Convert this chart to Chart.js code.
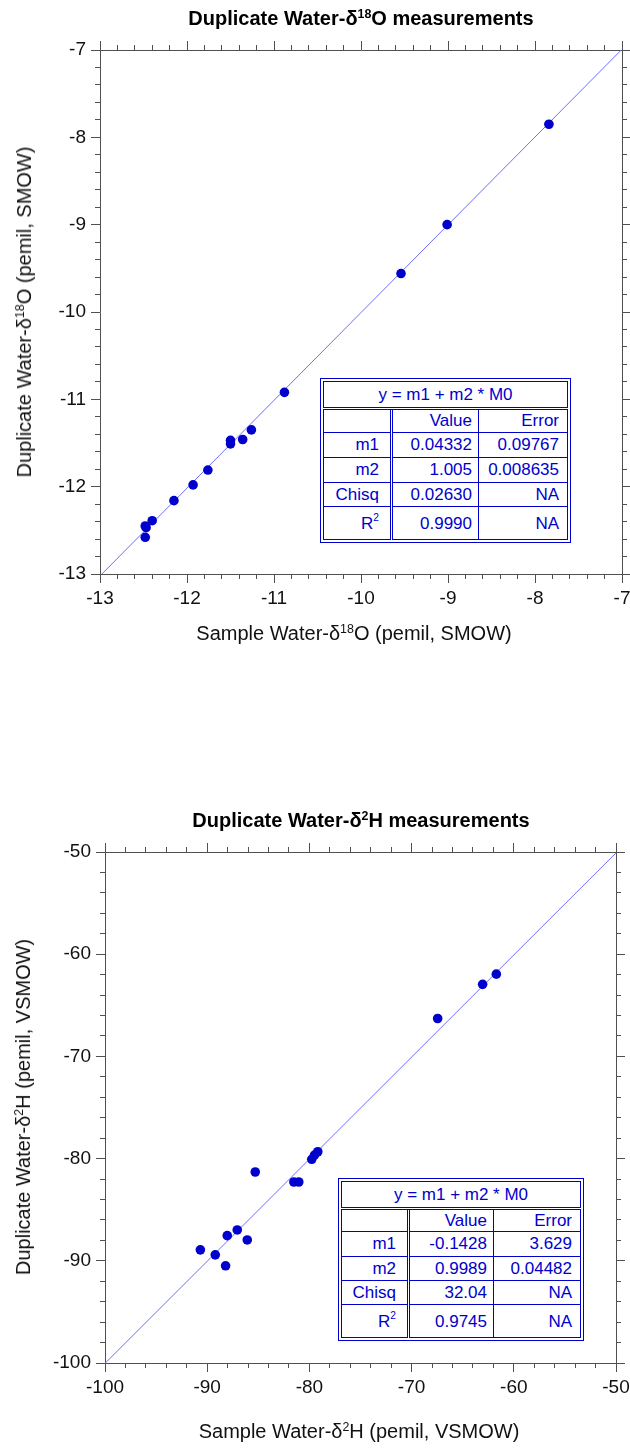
<!DOCTYPE html>
<html>
<head>
<meta charset="utf-8">
<script src="https://cdn.jsdelivr.net/npm/chart.js@4.4.0/dist/chart.umd.min.js"></script>
<style>
  body { margin: 0; background: #fff; overflow: hidden; }
  #page { position: relative; width: 630px; height: 1448px; font-family: "Liberation Sans", Arial, sans-serif; }
  canvas { position: absolute; left: 0; }
  .title, .axis-title { position: absolute; white-space: nowrap; line-height: 1; color: #000; transform: translate(-50%, -50%); }
  .title { font-weight: bold; font-size: 20px; }
  .axis-title { font-size: 20px; color: #111; }
  .vertical { transform: translate(-50%, -50%) rotate(-90deg); }
  .sup { font-size: 0.62em; position: relative; top: -0.55em; }
  .fit { position: absolute; border: 1px solid #0000cc; padding: 2px; background: #fff; }
  .fit table { border-collapse: collapse; table-layout: fixed; font-size: 17px; color: #0000cc; }
  .fit td { border: 1px solid #0000cc; text-align: right; line-height: 1; white-space: nowrap; padding-top: 0; padding-bottom: 0; }
  .fit tr.head td { text-align: center; padding: 0; border-bottom: 3px double #0000cc; }
  .fit td.c0 { border-right: 3px double #0000cc; padding-right: 11px; }
  .fit td.c1 { padding-right: 6px; }
  .fit td.c2 { padding-right: 8px; }
  .fit .sup { font-size: 0.6em; top: -0.7em; }
</style>
</head>
<body>
<div id="page">
  <canvas id="chartO" width="630" height="640" style="top:0px;width:630px;height:640px"></canvas>
  <div class="title" style="left:361px;top:18px">Duplicate Water-δ<span class="sup">18</span>O measurements</div>
  <div class="axis-title" style="left:354px;top:633px">Sample Water-δ<span class="sup">18</span>O (pemil, SMOW)</div>
  <div class="axis-title vertical" style="left:24px;top:312px">Duplicate Water-δ<span class="sup">18</span>O (pemil, SMOW)</div>
  <div class="fit" id="fitO" style="left:320px;top:378px"></div>

  <canvas id="chartH" width="630" height="640" style="top:800px;width:630px;height:640px"></canvas>
  <div class="title" style="left:361px;top:820px">Duplicate Water-δ<span class="sup">2</span>H measurements</div>
  <div class="axis-title" style="left:359px;top:1431px">Sample Water-δ<span class="sup">2</span>H (pemil, VSMOW)</div>
  <div class="axis-title vertical" style="left:23px;top:1107px">Duplicate Water-δ<span class="sup">2</span>H (pemil, VSMOW)</div>
  <div class="fit" id="fitH" style="left:338px;top:1178px"></div>
</div>

<script>
// oxygen-18 duplicates
const sampleO = [-7.84, -9.01, -9.54, -10.88, -11.26, -11.36, -11.50, -11.50, -11.76, -11.93, -12.15, -12.40, -12.47, -12.48, -12.48];
const duplicateO = [-7.85, -9.00, -9.56, -10.92, -11.35, -11.46, -11.47, -11.51, -11.81, -11.98, -12.16, -12.39, -12.47, -12.45, -12.58];
const fitO = [0.04332, 1.005]; // m1, m2
const rangeO = [-13, -7];
const fitRowsO = [
    ['', 'Value', 'Error'],
    ['m1', '0.04332', '0.09767'],
    ['m2', '1.005', '0.008635'],
    ['Chisq', '0.02630', 'NA'],
    ['R<span class="sup">2</span>', '0.9990', 'NA']
];

// deuterium duplicates
const sampleH = [-61.71, -63.05, -67.45, -79.18, -79.50, -79.77, -85.30, -81.52, -81.04, -87.06, -88.04, -86.08, -90.67, -89.21, -88.20];
const duplicateH = [-61.95, -62.95, -66.29, -79.33, -79.65, -80.07, -81.31, -82.29, -82.29, -86.98, -87.54, -87.96, -88.93, -89.42, -90.49];
const fitH = [-0.1428, 0.9989];
const rangeH = [-100, -50];
const fitRowsH = [
    ['', 'Value', 'Error'],
    ['m1', '-0.1428', '3.629'],
    ['m2', '0.9989', '0.04482'],
    ['Chisq', '32.04', 'NA'],
    ['R<span class="sup">2</span>', '0.9745', 'NA']
];

const fitHeader = 'y = m1 + m2 * M0';
const FONT = '"Liberation Sans", Arial, sans-serif';
const AXIS_COLOR = '#505050';

function buildScales(range, majorStep, minorStep, leftWidth, bottomHeight) {
    const [min, max] = range;
    const flatH = s => { s.height = 0; s.paddingLeft = 0; s.paddingRight = 0; };
    const flatW = s => { s.width = 0; s.paddingTop = 0; s.paddingBottom = 0; };
    const make = (position, step, tickLength, labels, border, weight, afterFit) => ({
        type: 'linear',
        position: position,
        min: min,
        max: max,
        weight: weight,
        afterFit: afterFit,
        ticks: {
            display: labels,
            stepSize: step,
            maxTicksLimit: 500,
            autoSkip: false,
            maxRotation: 0,
            padding: position === 'left' ? 5 : 4,
            color: '#111',
            font: { family: FONT, size: 19 },
            callback: v => String(Math.round(v * 1000) / 1000)
        },
        grid: {
            display: true,
            drawOnChartArea: false,
            drawTicks: true,
            tickLength: tickLength,
            tickColor: AXIS_COLOR,
            tickWidth: 1
        },
        border: { display: border, color: AXIS_COLOR, width: 1 }
    });
    return {
        x: make('bottom', majorStep, 9, true, true, 1, s => { s.height = bottomHeight; s.paddingLeft = 0; s.paddingRight = 0; }),
        xMinor: make('bottom', minorStep, 5, false, false, 0, flatH),
        xTop: make('top', majorStep, 9, false, true, 0, flatH),
        xTopMinor: make('top', minorStep, 5, false, false, 0, flatH),
        y: make('left', majorStep, 9, true, true, 1, s => { s.width = leftWidth; s.paddingTop = 0; s.paddingBottom = 0; }),
        yMinor: make('left', minorStep, 5, false, false, 0, flatW),
        yRight: make('right', majorStep, 9, false, true, 0, flatW),
        yRightMinor: make('right', minorStep, 5, false, false, 0, flatW)
    };
}

function drawChart(id, xs, ys, fit, range, majorStep, minorStep, layout) {
    const ctx = document.getElementById(id).getContext('2d');
    const points = xs.map((x, i) => ({ x: x, y: ys[i] }));
    const fitLine = range.map(x => ({ x: x, y: fit[0] + fit[1] * x }));
    return new Chart(ctx, {
        type: 'scatter',
        data: {
            datasets: [
                {
                    data: points,
                    backgroundColor: '#0000cc',
                    borderWidth: 0,
                    pointRadius: 4.8,
                    pointHoverRadius: 4.8
                },
                {
                    type: 'line',
                    data: fitLine,
                    borderColor: '#6e6eff',
                    borderWidth: 1,
                    pointRadius: 0,
                    fill: false
                }
            ]
        },
        options: {
            responsive: false,
            animation: false,
            devicePixelRatio: 1,
            layout: { padding: layout.padding },
            plugins: {
                legend: { display: false },
                tooltip: { enabled: false }
            },
            scales: buildScales(range, majorStep, minorStep, layout.leftWidth, layout.bottomHeight)
        }
    });
}

function fitTable(id, rows, colWidths, rowHeights) {
    const el = document.getElementById(id);
    let html = '<table style="width:' + colWidths.reduce((a, b) => a + b, 0) + 'px"><colgroup>';
    html += colWidths.map(w => '<col style="width:' + w + 'px">').join('') + '</colgroup>';
    html += '<tr class="head" style="height:' + rowHeights[0] + 'px"><td colspan="3">' + fitHeader + '</td></tr>';
    rows.forEach((r, i) => {
        html += '<tr style="height:' + rowHeights[i + 1] + 'px">';
        html += r.map((c, j) => '<td class="c' + j + '">' + c + '</td>').join('');
        html += '</tr>';
    });
    el.innerHTML = html + '</table>';
}

drawChart('chartO', sampleO, duplicateO, fitO, rangeO, 1, 0.2, {
    padding: { top: 50, right: 8, left: 0, bottom: 0 },
    leftWidth: 100,
    bottomHeight: 66
});
drawChart('chartH', sampleH, duplicateH, fitH, rangeH, 10, 2, {
    padding: { top: 52, right: 14, left: 0, bottom: 0 },
    leftWidth: 105,
    bottomHeight: 77
});

fitTable('fitO', fitRowsO, [68, 87, 89], [27, 23.5, 25, 25, 24.5, 33]);
fitTable('fitH', fitRowsH, [67, 85, 87], [26.5, 23.5, 24.5, 24, 24.5, 33]);
</script>
</body>
</html>
